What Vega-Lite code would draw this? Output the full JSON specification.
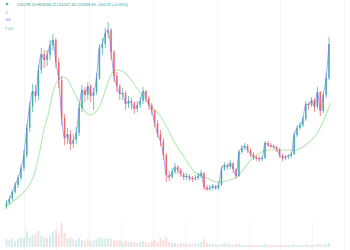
{
"$schema":"https://vega.github.io/schema/vega-lite/v6.json",
"padding":0,
"spacing":0,
"background":"white",
"config":{"view":{"stroke":null},"concat":{"spacing":0}},
"datasets":{
"candles":[
{"i":0,"o":14,"h":20,"l":11,"c":17,"vol":8},{"i":1,"o":17,"h":24,"l":15,"c":21,"vol":7},{"i":2,"o":21,"h":30,"l":19,"c":28,"vol":9},{"i":3,"o":28,"h":38,"l":26,"c":35,"vol":6},{"i":4,"o":35,"h":45,"l":32,"c":42,"vol":8},{"i":5,"o":42,"h":55,"l":40,"c":52,"vol":10},{"i":6,"o":52,"h":70,"l":49,"c":65,"vol":9},{"i":7,"o":65,"h":96,"l":62,"c":92,"vol":16},{"i":8,"o":92,"h":118,"l":88,"c":114,"vol":10},{"i":9,"o":114,"h":136,"l":108,"c":129,"vol":12},
{"i":10,"o":129,"h":135,"l":118,"c":124,"vol":14},{"i":11,"o":124,"h":155,"l":120,"c":150,"vol":16},{"i":12,"o":150,"h":172,"l":146,"c":166,"vol":11},{"i":13,"o":166,"h":170,"l":152,"c":160,"vol":10},{"i":14,"o":160,"h":170,"l":154,"c":165,"vol":9},{"i":15,"o":165,"h":180,"l":160,"c":175,"vol":12},{"i":16,"o":175,"h":186,"l":170,"c":180,"vol":15},{"i":17,"o":180,"h":182,"l":152,"c":158,"vol":17},{"i":18,"o":158,"h":162,"l":132,"c":140,"vol":13},{"i":19,"o":140,"h":144,"l":95,"c":102,"vol":24},
{"i":20,"o":102,"h":106,"l":75,"c":82,"vol":14},{"i":21,"o":82,"h":92,"l":76,"c":86,"vol":9},{"i":22,"o":86,"h":90,"l":70,"c":76,"vol":10},{"i":23,"o":76,"h":86,"l":72,"c":80,"vol":8},{"i":24,"o":80,"h":93,"l":76,"c":87,"vol":7},{"i":25,"o":87,"h":116,"l":84,"c":112,"vol":9},{"i":26,"o":112,"h":135,"l":108,"c":130,"vol":7},{"i":27,"o":130,"h":133,"l":118,"c":125,"vol":6},{"i":28,"o":125,"h":138,"l":120,"c":134,"vol":8},{"i":29,"o":134,"h":136,"l":118,"c":124,"vol":6},
{"i":30,"o":124,"h":132,"l":110,"c":128,"vol":7},{"i":31,"o":128,"h":147,"l":125,"c":142,"vol":8},{"i":32,"o":142,"h":176,"l":140,"c":172,"vol":10},{"i":33,"o":172,"h":182,"l":165,"c":176,"vol":9},{"i":34,"o":176,"h":192,"l":172,"c":187,"vol":8},{"i":35,"o":187,"h":198,"l":182,"c":190,"vol":9},{"i":36,"o":190,"h":192,"l":160,"c":168,"vol":8},{"i":37,"o":168,"h":170,"l":138,"c":144,"vol":7},{"i":38,"o":144,"h":148,"l":128,"c":134,"vol":6},{"i":39,"o":134,"h":136,"l":120,"c":126,"vol":7},
{"i":40,"o":126,"h":132,"l":120,"c":127,"vol":5},{"i":41,"o":127,"h":129,"l":110,"c":116,"vol":6},{"i":42,"o":116,"h":124,"l":112,"c":119,"vol":5},{"i":43,"o":119,"h":122,"l":110,"c":117,"vol":6},{"i":44,"o":117,"h":119,"l":106,"c":111,"vol":5},{"i":45,"o":111,"h":119,"l":108,"c":115,"vol":4},{"i":46,"o":115,"h":123,"l":112,"c":119,"vol":5},{"i":47,"o":119,"h":133,"l":116,"c":129,"vol":6},{"i":48,"o":129,"h":130,"l":118,"c":122,"vol":5},{"i":49,"o":122,"h":124,"l":110,"c":115,"vol":4},
{"i":50,"o":115,"h":117,"l":105,"c":109,"vol":6},{"i":51,"o":109,"h":111,"l":93,"c":97,"vol":7},{"i":52,"o":97,"h":100,"l":82,"c":86,"vol":5},{"i":53,"o":86,"h":90,"l":74,"c":79,"vol":9},{"i":54,"o":79,"h":82,"l":60,"c":65,"vol":7},{"i":55,"o":65,"h":67,"l":38,"c":45,"vol":10},{"i":56,"o":45,"h":49,"l":39,"c":43,"vol":5},{"i":57,"o":43,"h":52,"l":41,"c":48,"vol":4},{"i":58,"o":48,"h":57,"l":46,"c":53,"vol":4},{"i":59,"o":53,"h":55,"l":46,"c":50,"vol":3},
{"i":60,"o":50,"h":52,"l":43,"c":46,"vol":4},{"i":61,"o":46,"h":48,"l":40,"c":43,"vol":3},{"i":62,"o":43,"h":47,"l":40,"c":44,"vol":3},{"i":63,"o":44,"h":46,"l":39,"c":42,"vol":4},{"i":64,"o":42,"h":44,"l":38,"c":41,"vol":3},{"i":65,"o":41,"h":45,"l":39,"c":42,"vol":3},{"i":66,"o":42,"h":47,"l":40,"c":44,"vol":4},{"i":67,"o":44,"h":50,"l":42,"c":47,"vol":5},{"i":68,"o":47,"h":48,"l":30,"c":33,"vol":8},{"i":69,"o":33,"h":35,"l":29,"c":31,"vol":4},
{"i":70,"o":31,"h":35,"l":29,"c":32,"vol":3},{"i":71,"o":32,"h":36,"l":30,"c":34,"vol":3},{"i":72,"o":34,"h":35,"l":30,"c":32,"vol":3},{"i":73,"o":32,"h":38,"l":30,"c":35,"vol":2},{"i":74,"o":35,"h":54,"l":34,"c":51,"vol":3},{"i":75,"o":51,"h":58,"l":49,"c":55,"vol":4},{"i":76,"o":55,"h":57,"l":50,"c":53,"vol":3},{"i":77,"o":53,"h":60,"l":51,"c":57,"vol":3},{"i":78,"o":57,"h":58,"l":47,"c":51,"vol":2},{"i":79,"o":51,"h":52,"l":41,"c":44,"vol":3},
{"i":80,"o":44,"h":70,"l":43,"c":68,"vol":3},{"i":81,"o":68,"h":75,"l":66,"c":72,"vol":2},{"i":82,"o":72,"h":77,"l":70,"c":74,"vol":2},{"i":83,"o":74,"h":76,"l":67,"c":70,"vol":2},{"i":84,"o":70,"h":72,"l":63,"c":66,"vol":2},{"i":85,"o":66,"h":68,"l":60,"c":63,"vol":2},{"i":86,"o":63,"h":65,"l":59,"c":62,"vol":2},{"i":87,"o":62,"h":64,"l":58,"c":61,"vol":2},{"i":88,"o":61,"h":64,"l":59,"c":62,"vol":2},{"i":89,"o":62,"h":79,"l":61,"c":77,"vol":3},
{"i":90,"o":77,"h":79,"l":73,"c":75,"vol":2},{"i":91,"o":75,"h":77,"l":72,"c":74,"vol":2},{"i":92,"o":74,"h":76,"l":71,"c":73,"vol":2},{"i":93,"o":73,"h":74,"l":68,"c":71,"vol":2},{"i":94,"o":71,"h":72,"l":62,"c":65,"vol":2},{"i":95,"o":65,"h":66,"l":59,"c":62,"vol":2},{"i":96,"o":62,"h":65,"l":60,"c":63,"vol":2},{"i":97,"o":63,"h":66,"l":61,"c":64,"vol":2},{"i":98,"o":64,"h":68,"l":62,"c":66,"vol":2},{"i":99,"o":66,"h":88,"l":65,"c":85,"vol":3},
{"i":100,"o":85,"h":95,"l":83,"c":92,"vol":2},{"i":101,"o":92,"h":98,"l":90,"c":95,"vol":2},{"i":102,"o":95,"h":104,"l":93,"c":101,"vol":2},{"i":103,"o":101,"h":119,"l":99,"c":116,"vol":3},{"i":104,"o":116,"h":118,"l":110,"c":115,"vol":2},{"i":105,"o":115,"h":123,"l":113,"c":120,"vol":2},{"i":106,"o":120,"h":122,"l":108,"c":113,"vol":2},{"i":107,"o":113,"h":133,"l":111,"c":128,"vol":3},{"i":108,"o":128,"h":129,"l":104,"c":109,"vol":3},{"i":109,"o":109,"h":128,"l":107,"c":125,"vol":2},
{"i":110,"o":125,"h":146,"l":122,"c":142,"vol":3},{"i":111,"o":142,"h":183,"l":140,"c":176,"vol":4}
],
"ma":[
{"i":-0.5,"m":13},{"i":4.5,"m":24},{"i":7.9,"m":35},{"i":9.5,"m":45},{"i":11.2,"m":65},{"i":12.9,"m":90},{"i":14.5,"m":107},{"i":16.2,"m":130},{"i":17.9,"m":140},{"i":19.6,"m":143},{"i":21.2,"m":140},{"i":22.9,"m":130},{"i":24.6,"m":120},{"i":26.2,"m":112},{"i":28.6,"m":105},{"i":30.3,"m":107},{"i":32.3,"m":115},{"i":34.6,"m":135},{"i":36.3,"m":147},{"i":38,"m":150},{"i":40.3,"m":148},{"i":43,"m":140},{"i":45.3,"m":130},{"i":48,"m":120},{"i":50.3,"m":112},{"i":53,"m":104},{"i":55.7,"m":90},{"i":58,"m":77},{"i":61.4,"m":62},{"i":64.7,"m":48},{"i":69,"m":42},{"i":72.4,"m":38},{"i":78.7,"m":42},{"i":84.8,"m":62},{"i":90.4,"m":70},{"i":94.8,"m":70},{"i":99.1,"m":70},{"i":103.8,"m":77},{"i":107.2,"m":88},{"i":111.5,"m":117}
],
"labels":[
{"i":3.5,"v":215,"t":"O61299.14 H63098.22 L61247.44 C61848.94 +556.32 (+0.91%)","col":"#26a69a"},
{"i":-0.2,"v":207,"t":"1","col":"#c05bd6"},
{"i":-0.5,"v":200,"t":".54","col":"#4f6df0"},
{"i":-0.5,"v":191,"t":"7.64","col":"#5cc46a"}
]
},
"vconcat":[
{"width":350,"height":220,
"layer":[
{"data":{"name":"candles"},"mark":{"type":"rule","strokeWidth":0},"encoding":{"x":{"field":"i","type":"quantitative","scale":{"domain":[-0.5,116.5],"nice":false,"zero":false},"axis":{"grid":true,"gridColor":"#f4f5f8","labels":false,"ticks":false,"domain":false,"title":null,"values":[6.2,17.2,28.3,39.3,50.3,61.3,72.3,83.3,94.3,105.3,116.3]}},"y":{"field":"l","type":"quantitative","scale":{"domain":[0,220],"nice":false,"zero":false},"axis":null}}},
{"mark":{"type":"rule","strokeDash":[2,2],"color":"#9fd3c7","strokeWidth":1},"encoding":{"y":{"datum":176,"type":"quantitative","scale":{"domain":[0,220],"nice":false,"zero":false},"axis":null}}},
{"data":{"name":"ma"},"mark":{"type":"line","interpolate":"monotone","color":"#b5eab5","strokeWidth":1.1},"encoding":{"x":{"field":"i","type":"quantitative","scale":{"domain":[-0.5,116.5],"nice":false,"zero":false}},"y":{"field":"m","type":"quantitative","scale":{"domain":[0,220],"nice":false,"zero":false}}}},
{"data":{"name":"candles"},"mark":{"type":"rule","strokeWidth":1,"opacity":0.65},"encoding":{"x":{"field":"i","type":"quantitative","scale":{"domain":[-0.5,116.5],"nice":false,"zero":false}},"y":{"field":"l","type":"quantitative","scale":{"domain":[0,220],"nice":false,"zero":false}},"y2":{"field":"h"},"color":{"condition":{"test":"datum.c >= datum.o","value":"#26a69a"},"value":"#ef5350"}}},
{"data":{"name":"candles"},"mark":{"type":"bar","size":1.6,"opacity":0.7},"encoding":{"x":{"field":"i","type":"quantitative","scale":{"domain":[-0.5,116.5],"nice":false,"zero":false}},"y":{"field":"o","type":"quantitative","scale":{"domain":[0,220],"nice":false,"zero":false}},"y2":{"field":"c"},"color":{"condition":{"test":"datum.c >= datum.o","value":"#26a69a"},"value":"#ef5350"}}},
{"data":{"name":"candles"},"mark":{"type":"line","interpolate":"monotone","color":"#7d6cf2","strokeWidth":0.9,"opacity":0.7},"encoding":{"x":{"field":"i","type":"quantitative","scale":{"domain":[-0.5,116.5],"nice":false,"zero":false}},"y":{"field":"c","type":"quantitative","scale":{"domain":[0,220],"nice":false,"zero":false}}}},
{"data":{"name":"labels"},"mark":{"type":"text","align":"left","baseline":"middle","fontSize":3.9,"font":"Liberation Sans"},"encoding":{"x":{"field":"i","type":"quantitative","scale":{"domain":[-0.5,116.5],"nice":false,"zero":false}},"y":{"field":"v","type":"quantitative","scale":{"domain":[0,220],"nice":false,"zero":false}},"text":{"field":"t"},"color":{"field":"col","type":"nominal","scale":null}}},
{"data":{"values":[{"i":0.2,"v":216}]},"mark":{"type":"point","filled":true,"size":7,"color":"#26a69a","opacity":0.8},"encoding":{"x":{"field":"i","type":"quantitative","scale":{"domain":[-0.5,116.5],"nice":false,"zero":false}},"y":{"field":"v","type":"quantitative","scale":{"domain":[0,220],"nice":false,"zero":false}}}}
]},
{"width":350,"height":30,
"layer":[
{"data":{"name":"candles"},"mark":{"type":"bar","size":2,"opacity":0.2},"encoding":{"x":{"field":"i","type":"quantitative","scale":{"domain":[-0.5,116.5],"nice":false,"zero":false},"axis":{"grid":true,"gridColor":"#f4f5f8","labels":false,"ticks":false,"domain":false,"title":null,"values":[6.2,17.2,28.3,39.3,50.3,61.3,72.3,83.3,94.3,105.3,116.3]}},"y":{"field":"vol","type":"quantitative","scale":{"domain":[-3,27],"nice":false,"zero":false},"axis":null},"y2":{"datum":0},"color":{"condition":{"test":"datum.c >= datum.o","value":"#26a69a"},"value":"#ef5350"}}},
{"mark":{"type":"rule","color":"#e0e3eb","strokeWidth":1.5},"encoding":{"y":{"datum":25.5,"type":"quantitative","scale":{"domain":[-3,27],"nice":false,"zero":false}}}},
{"mark":{"type":"rule","color":"#e6e8ee","strokeWidth":1.5},"encoding":{"y":{"datum":-1.5,"type":"quantitative","scale":{"domain":[-3,27],"nice":false,"zero":false}}}}
]}
]
}
